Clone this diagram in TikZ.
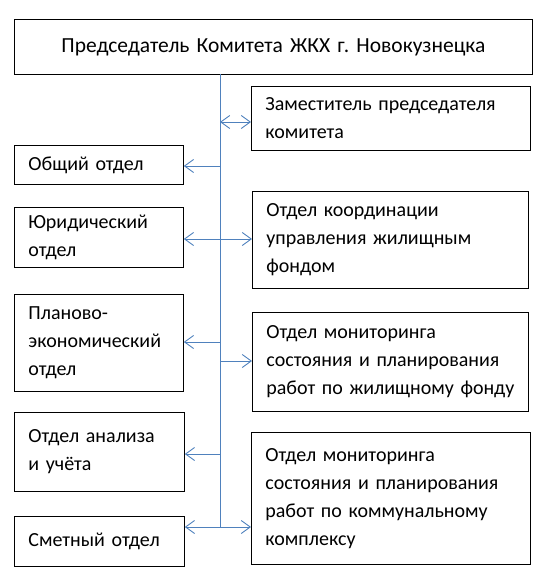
\documentclass[tikz,border=0pt]{standalone}
\usepackage{fontspec}
\setmainfont{Carlito}
\frenchspacing
\usetikzlibrary{arrows.meta}
\definecolor{linkblue}{RGB}{79,129,189}
\tikzset{
  box/.style={draw, line width=0.8pt, rectangle, anchor=north west, inner xsep=14pt,
    align=left, font=\fontsize{20}{28}\selectfont},
  link/.style={draw=linkblue, line width=0.9pt},
  tip/.style={arrows={-Straight Barb[length=9pt,width=13pt]}},
  tips/.style={arrows={Straight Barb[length=9pt,width=13pt]-Straight Barb[length=9pt,width=13pt]}}
}
\begin{document}
\begin{tikzpicture}[x=1pt,y=-1pt]
            \useasboundingbox (0,0) rectangle (544,572);
            % boxes
            \node[box, align=center, text width=490, minimum height=55, font=\fontsize{21.5}{28}\selectfont] (head) at (14,19) {Председатель Комитета ЖКХ г. Новокузнецка};
            \node[box, text width=251, minimum height=64] (dep) at (251,86) {Заместитель председателя\\комитета};
            \node[box, text width=141, minimum height=39] (obsh) at (14,145) {Общий отдел};
            \node[box, text width=141, minimum height=60] (jur) at (14,207) {Юридический\\отдел};
            \node[box, text width=248, minimum height=97] (koord) at (252,191) {Отдел координации\\управления жилищным\\фондом};
            \node[box, text width=141, minimum height=97] (plan) at (14,294) {Планово-\\экономический\\отдел};
            \node[box, text width=248, minimum height=99] (mon1) at (252,312) {Отдел мониторинга\\состояния и планирования\\работ по жилищному фонду};
            \node[box, text width=142, minimum height=79] (anal) at (14,412) {Отдел анализа\\и учёта};
            \node[box, text width=142, minimum height=50] (smet) at (14,516) {Сметный отдел};
            \node[box, text width=251, minimum height=132] (mon2) at (251,432) {Отдел мониторинга\\состояния и планирования\\работ по коммунальному\\комплексу};
            % trunk
            \coordinate (top) at (220,74);
            \coordinate (t1) at (220,122);
            \coordinate (t2) at (220,166);
            \coordinate (t3) at (220,239);
            \coordinate (t4) at (220,342);
            \coordinate (t5) at (220,361);
            \coordinate (t6) at (220,454);
            \coordinate (t7) at (220,527);
            \draw[link] (top) -- (t7);
            \draw[link, tips] (t1) -- (t1 -| dep.west);
            \draw[link, tip] (t2) -- (t2 -| obsh.east);
            \draw[link, tips] (t3 -| jur.east) -- (t3 -| koord.west);
            \draw[link, tip] (t4) -- (t4 -| plan.east);
            \draw[link, tip] (t5) -- (t5 -| mon1.west);
            \draw[link, tip] (t6) -- (t6 -| anal.east);
            \draw[link, tips] (t7 -| smet.east) -- (t7 -| mon2.west);
        \end{tikzpicture}
\end{document}
